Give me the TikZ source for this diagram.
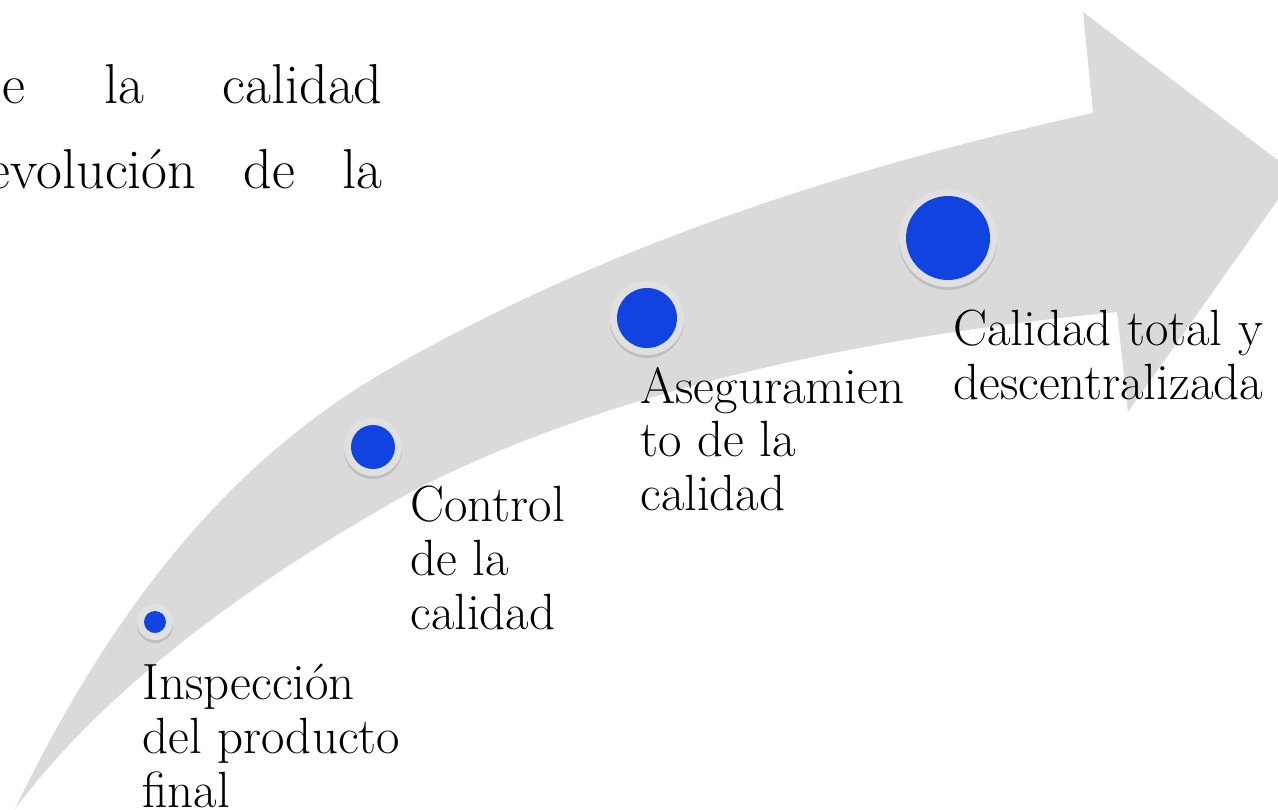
\documentclass[tikz,border=0pt]{standalone}
\usepackage{xcolor}
\usepackage{tikz}
\usetikzlibrary{shadows}
\definecolor{arrowgray}{RGB}{218,218,218}
\definecolor{ringgray}{RGB}{224,224,224}
\definecolor{dotblue}{RGB}{16,67,224}

\begin{document}
\begin{tikzpicture}[x=0.02cm,y=-0.02cm,inner sep=0pt,
  stagedot/.style 2 args={circle,fill=ringgray,minimum size=#1,
    drop shadow={shadow xshift=0pt,shadow yshift=-0.06cm,opacity=0.3},
    path picture={\fill[dotblue] (path picture bounding box.center) circle[radius=#2];}},
  lbl/.style={anchor=north west,align=left,font=\fontsize{29}{30.5}\selectfont},
  txt/.style={anchor=base east,font=\fontsize{32}{36}\selectfont}]
\useasboundingbox (0,0) rectangle (1278,809);
\clip (0,0) rectangle (1278,809);

% the big arrow
\fill[arrowgray] (15,809) .. controls (130,570) and (260,440) .. (400,363)
  .. controls (589,256) and (820,173) .. (1093,113)
  -- (1083,12) -- (1296,174) -- (1128,412) -- (1117,312)
  .. controls (830,340) and (598,398) .. (420,487)
  .. controls (233,590) and (98,698) .. (15,809) -- cycle;

% top text
\node[txt] (t1) at (383,103) {\makebox[7.6cm][s]{e la calidad}};
\node[txt] (t2) at (383,188) {\makebox[7.9cm][s]{evolución de la}};

% stages
\node[stagedot={0.72cm}{0.22cm}] (d1) at (155,622) {};
\node[stagedot={1.16cm}{0.44cm}] (d2) at (373,447) {};
\node[stagedot={1.48cm}{0.6cm}] (d3) at (647,318) {};
\node[stagedot={1.96cm}{0.84cm}] (d4) at (948,238) {};

\node[lbl] (l1) at (142,664) {Inspección\\del producto\\final};
\node[lbl] (l2) at (410,486) {Control\\de la\\calidad};
\node[lbl] (l3) at (640,367) {Aseguramien\\to de la\\calidad};
\node[lbl] (l4) at (953,310) {Calidad total y\\descentralizada};
\end{tikzpicture}
\end{document}
